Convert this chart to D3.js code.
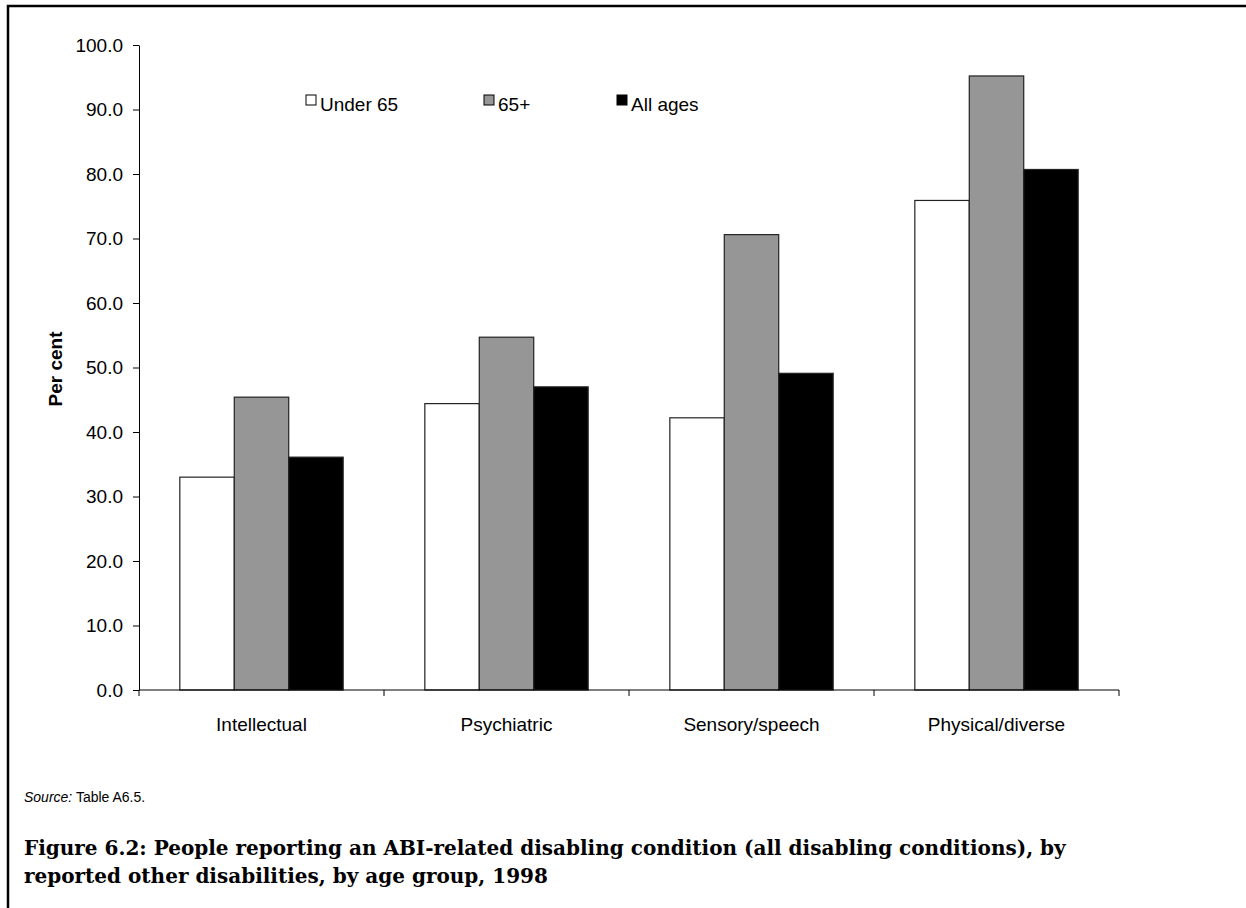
<!DOCTYPE html>
<html>
<head>
<meta charset="utf-8">
<script src="https://cdn.jsdelivr.net/npm/d3@7"></script>
<style>
  body { margin: 0; background: #fff; }
  svg { display: block; }
</style>
</head>
<body>
<div id="chart"></div>
<script>
var categories = ['Intellectual', 'Psychiatric', 'Sensory/speech', 'Physical/diverse'];
var seriesNames = ['Under 65', '65+', 'All ages'];
var under65 = [33.0, 44.4, 42.2, 75.9];
var over65 = [45.4, 54.7, 70.6, 95.2];
var allAges = [36.1, 47.0, 49.1, 80.7];
var yTicks = [0, 10, 20, 30, 40, 50, 60, 70, 80, 90, 100];
var colors = ['#ffffff', '#969696', '#000000'];

var W = 1246, H = 908;
var margin = {top: 45, left: 139};
var width = 980, height = 645;
var sans = 'Liberation Sans, Arial, sans-serif';

var svg = d3.select('#chart').append('svg')
    .attr('width', W)
    .attr('height', H);

// frame (top + left edges only)
svg.append('path')
    .attr('d', 'M8,' + H + ' L8,6 L' + W + ',6')
    .attr('fill', 'none')
    .attr('stroke', '#000')
    .attr('stroke-width', 2.5);

var g = svg.append('g')
    .attr('transform', 'translate(' + margin.left + ',' + margin.top + ')');

var x0 = d3.scaleBand().domain(categories).range([0, width]);
var x1 = d3.scaleBand().domain(seriesNames).range([0, x0.bandwidth()])
    .paddingInner(0).paddingOuter(0.75);
var y = d3.scaleLinear().domain([0, 100]).range([height, 0]);

var data = categories.map(function(c, i) {
  return {cat: c, vals: [under65[i], over65[i], allAges[i]]};
});

var groups = g.selectAll('.grp')
    .data(data)
    .enter().append('g')
    .attr('transform', function(d) { return 'translate(' + x0(d.cat) + ',0)'; });

groups.selectAll('rect')
    .data(function(d) { return d.vals.map(function(v, k) { return {s: seriesNames[k], v: v, k: k}; }); })
    .enter().append('rect')
    .attr('x', function(d) { return x1(d.s); })
    .attr('y', function(d) { return y(d.v); })
    .attr('width', x1.bandwidth())
    .attr('height', function(d) { return height - y(d.v); })
    .attr('fill', function(d) { return colors[d.k]; })
    .attr('stroke', '#222')
    .attr('stroke-width', 1.2);

// y axis
var yAxis = g.append('g')
    .call(d3.axisLeft(y).tickValues(yTicks).tickSize(6).tickSizeOuter(0)
      .tickFormat(function(d) { return d3.format('.1f')(d); }));
yAxis.selectAll('text')
    .attr('font-family', sans)
    .attr('font-size', 19)
    .attr('fill', '#000')
    .attr('x', -16);
yAxis.selectAll('line, path').attr('stroke', '#000');

// x axis with ticks at band boundaries
var xAxis = g.append('g')
    .attr('transform', 'translate(0,' + height + ')');
xAxis.append('line')
    .attr('x1', 0).attr('x2', width)
    .attr('stroke', '#000');
var bounds = categories.map(function(c) { return x0(c); }).concat([width]);
xAxis.selectAll('.tk')
    .data(bounds)
    .enter().append('line')
    .attr('x1', function(d) { return d; })
    .attr('x2', function(d) { return d; })
    .attr('y1', 0).attr('y2', 6)
    .attr('stroke', '#000');
xAxis.selectAll('.lbl')
    .data(categories)
    .enter().append('text')
    .attr('x', function(d) { return x0(d) + x0.bandwidth() / 2; })
    .attr('y', 41)
    .attr('text-anchor', 'middle')
    .attr('font-family', sans)
    .attr('font-size', 19)
    .text(function(d) { return d; });

// y label
svg.append('text')
    .attr('transform', 'translate(62,369) rotate(-90)')
    .attr('text-anchor', 'middle')
    .attr('font-family', sans)
    .attr('font-size', 19)
    .attr('font-weight', 'bold')
    .text('Per cent');

// legend
var legendX = [306, 484, 617];
var legend = svg.selectAll('.leg')
    .data(seriesNames)
    .enter().append('g')
    .attr('transform', function(d, i) { return 'translate(' + legendX[i] + ',95)'; });
legend.append('rect')
    .attr('width', 10).attr('height', 10)
    .attr('fill', function(d, i) { return colors[i]; })
    .attr('stroke', '#000')
    .attr('stroke-width', 1);
legend.append('text')
    .attr('x', 14).attr('y', 16)
    .attr('font-family', sans)
    .attr('font-size', 19)
    .text(function(d) { return d; });

// source note
var src = svg.append('text')
    .attr('x', 24).attr('y', 802)
    .attr('font-family', sans)
    .attr('font-size', 14);
src.append('tspan').attr('font-style', 'italic').text('Source:');
src.append('tspan').text(' Table A6.5.');

// caption
var capLines = [
  'Figure 6.2: People reporting an ABI-related disabling condition (all disabling conditions), by',
  'reported other disabilities, by age group, 1998'
];
svg.selectAll('.cap')
    .data(capLines)
    .enter().append('text')
    .attr('x', 24)
    .attr('y', function(d, i) { return 855 + i * 28; })
    .attr('font-family', 'DejaVu Serif, serif')
    .attr('font-weight', 'bold')
    .attr('font-size', 20)
    .text(function(d) { return d; });
</script>
</body>
</html>
